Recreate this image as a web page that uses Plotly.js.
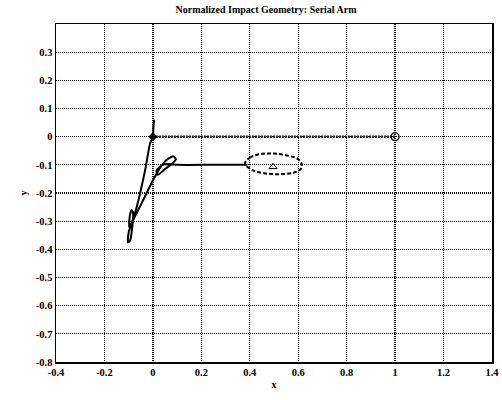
<!DOCTYPE html>
<html><head><meta charset="utf-8">
<script src="https://cdn.plot.ly/plotly-3.0.1.min.js"></script>
<style>html,body{margin:0;padding:0;background:#fff}#chart{width:502px;height:400px}</style>
</head><body><div id="chart"></div>
<script>
// Arm tip trajectory (solid)
const pathX = [0.005, 0.002, 0, -0.012, -0.03, -0.05, -0.07, -0.085, -0.1, -0.103, -0.095, -0.085, -0.082, -0.088, -0.095, -0.098, -0.09, -0.06, -0.02, 0.01, 0.03, 0.06, 0.085, 0.095, 0.08, 0.05, 0.02, 0.015, 0.04, 0.07, 0.1, 0.25, 0.39];
const pathY = [0.06, 0.03, 0, -0.025, -0.11, -0.19, -0.26, -0.3, -0.34, -0.375, -0.37, -0.32, -0.27, -0.26, -0.28, -0.32, -0.31, -0.26, -0.19, -0.14, -0.11, -0.08, -0.07, -0.08, -0.095, -0.115, -0.135, -0.12, -0.1, -0.097, -0.1, -0.1, -0.1];
// Reference line to target
const refX = [0, 1];
const refY = [0, 0];
// Dashed impact region
const ellX = [0.38, 0.40, 0.44, 0.50, 0.56, 0.60, 0.615, 0.61, 0.58, 0.52, 0.46, 0.41, 0.38];
const ellY = [-0.095, -0.075, -0.062, -0.06, -0.068, -0.08, -0.098, -0.115, -0.128, -0.133, -0.13, -0.118, -0.095];
// Markers
const startX = [0], startY = [0];
const targetX = [1], targetY = [0];
const impactX = [0.496], impactY = [-0.107];

const xTicks = [-0.4, -0.2, 0, 0.2, 0.4, 0.6, 0.8, 1, 1.2, 1.4];
const xTickText = ['-0.4', '-0.2', '0', '0.2', '0.4', '0.6', '0.8', '1', '1.2', '1.4'];
const yTicks = [-0.8, -0.7, -0.6, -0.5, -0.4, -0.3, -0.2, -0.1, 0, 0.1, 0.2, 0.3];
const yTickText = ['-0.8', '-0.7', '-0.6', '-0.5', '-0.4', '-0.3', '-0.2', '-0.1', '0', '0.1', '0.2', '0.3'];

const fam = 'Liberation Serif, serif';
const traces = [
  {x: refX, y: refY, mode: 'lines', line: {color: '#222', width: 2.5, dash: '2px,1px'}},
  {x: ellX, y: ellY, mode: 'lines', line: {color: '#000', width: 2, dash: '4px,2px', shape: 'spline'}},
  {x: pathX, y: pathY, mode: 'lines', line: {color: '#000', width: 2, shape: 'spline', smoothing: 0.6}},
  {x: startX, y: startY, mode: 'markers', marker: {symbol: 'diamond', size: 7, color: '#000'}},
  {x: targetX, y: targetY, mode: 'markers', marker: {symbol: 'circle-open', size: 8, color: '#000', line: {width: 1.2}}},
  {x: impactX, y: impactY, mode: 'markers', marker: {symbol: 'triangle-up-open', size: 7, color: '#000', line: {width: 1}}}
];
const axisCommon = {
  showgrid: true, gridcolor: '#000', gridwidth: 1.3, griddash: '1px,1px',
  showline: true, linecolor: '#000', linewidth: 1.5, mirror: true,
  zeroline: false, ticks: '', tickfont: {family: fam, size: 10.5, color: '#000', weight: 'bold'}
};
const layout = {
  width: 502, height: 400,
  margin: {l: 56, r: 10, t: 24, b: 38},
  paper_bgcolor: '#fff', plot_bgcolor: '#fff',
  showlegend: false, font: {family: fam, size: 10, color: '#000'},
  title: {text: 'Normalized Impact Geometry: Serial Arm', x: 0.53, xanchor: 'center', y: 0.985, yanchor: 'top', font: {family: fam, size: 10, color: '#000', weight: 'bold'}},
  xaxis: Object.assign({}, axisCommon, {range: [-0.4, 1.4], tickvals: xTicks, ticktext: xTickText, title: {text: 'x', standoff: 4, font: {family: fam, size: 10, color: '#000', weight: 'bold'}}}),
  yaxis: Object.assign({}, axisCommon, {range: [-0.8, 0.4], tickvals: yTicks, ticktext: yTickText, title: {text: 'y', standoff: 6, font: {family: fam, size: 10, color: '#000', weight: 'bold'}}})
};
Plotly.newPlot('chart', traces, layout, {displayModeBar: false, staticPlot: true});
</script></body></html>
